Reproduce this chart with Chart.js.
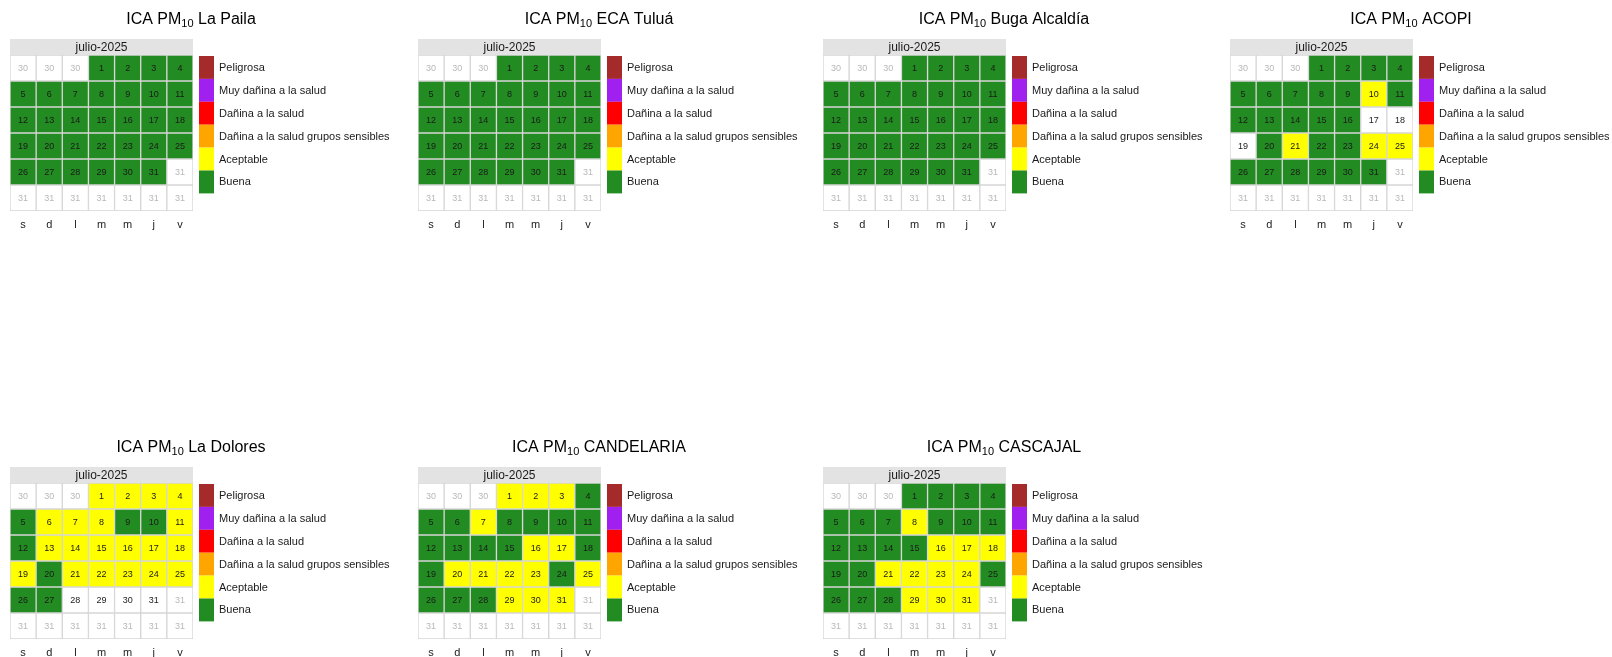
<!DOCTYPE html>
<html>
<head>
<meta charset="utf-8">
<script src="https://cdn.jsdelivr.net/npm/chart.js@4.4.1/dist/chart.umd.min.js"></script>
<style>
  html, body { margin: 0; padding: 0; background: #ffffff; }
  body { width: 1612px; height: 657px; position: relative; overflow: hidden; }
  .panel { position: absolute; width: 400px; height: 230px; }
</style>
</head>
<body>
<div class="panel" style="left:0px;top:0px"><canvas id="c0"></canvas></div>
<div class="panel" style="left:408px;top:0px"><canvas id="c1"></canvas></div>
<div class="panel" style="left:813px;top:0px"><canvas id="c2"></canvas></div>
<div class="panel" style="left:1220px;top:0px;width:392px"><canvas id="c3"></canvas></div>
<div class="panel" style="left:0px;top:428px"><canvas id="c4"></canvas></div>
<div class="panel" style="left:408px;top:428px"><canvas id="c5"></canvas></div>
<div class="panel" style="left:813px;top:428px"><canvas id="c6"></canvas></div>
<script>
// ---------- DATA ----------
const monthLabel = 'julio-2025';
const weekdays = ['s', 'd', 'l', 'm', 'm', 'j', 'v'];
// calendar grid (rows = weeks), day number shown in each cell
const calendarDays = [
  [30, 30, 30, 1, 2, 3, 4],
  [5, 6, 7, 8, 9, 10, 11],
  [12, 13, 14, 15, 16, 17, 18],
  [19, 20, 21, 22, 23, 24, 25],
  [26, 27, 28, 29, 30, 31, 31],
  [31, 31, 31, 31, 31, 31, 31]
];
// 1 = day belongs to julio-2025, 0 = filler cell
const inMonth = [
  [0, 0, 0, 1, 1, 1, 1],
  [1, 1, 1, 1, 1, 1, 1],
  [1, 1, 1, 1, 1, 1, 1],
  [1, 1, 1, 1, 1, 1, 1],
  [1, 1, 1, 1, 1, 1, 0],
  [0, 0, 0, 0, 0, 0, 0]
];
const levels = ['Peligrosa', 'Muy dañina a la salud', 'Dañina a la salud',
                'Dañina a la salud grupos sensibles', 'Aceptable', 'Buena'];
const levelColors = ['#A52A2A', '#A020F0', '#FF0000', '#FFA500', '#FFFF00', '#228B22'];

const stationNames = ['La Paila', 'ECA Tuluá', 'Buga Alcaldía', 'ACOPI',
                      'La Dolores', 'CANDELARIA', 'CASCAJAL'];
// daily category, days 1..31 (null = no data)
const laPaila = ['Buena','Buena','Buena','Buena','Buena','Buena','Buena','Buena','Buena','Buena',
  'Buena','Buena','Buena','Buena','Buena','Buena','Buena','Buena','Buena','Buena',
  'Buena','Buena','Buena','Buena','Buena','Buena','Buena','Buena','Buena','Buena','Buena'];
const ecaTulua = ['Buena','Buena','Buena','Buena','Buena','Buena','Buena','Buena','Buena','Buena',
  'Buena','Buena','Buena','Buena','Buena','Buena','Buena','Buena','Buena','Buena',
  'Buena','Buena','Buena','Buena','Buena','Buena','Buena','Buena','Buena','Buena','Buena'];
const bugaAlcaldia = ['Buena','Buena','Buena','Buena','Buena','Buena','Buena','Buena','Buena','Buena',
  'Buena','Buena','Buena','Buena','Buena','Buena','Buena','Buena','Buena','Buena',
  'Buena','Buena','Buena','Buena','Buena','Buena','Buena','Buena','Buena','Buena','Buena'];
const acopi = ['Buena','Buena','Buena','Buena','Buena','Buena','Buena','Buena','Buena','Aceptable',
  'Buena','Buena','Buena','Buena','Buena','Buena',null,null,null,'Buena',
  'Aceptable','Buena','Buena','Aceptable','Aceptable','Buena','Buena','Buena','Buena','Buena','Buena'];
const laDolores = ['Aceptable','Aceptable','Aceptable','Aceptable','Buena','Aceptable','Aceptable','Aceptable','Buena','Buena',
  'Aceptable','Buena','Aceptable','Aceptable','Aceptable','Aceptable','Aceptable','Aceptable','Aceptable','Buena',
  'Aceptable','Aceptable','Aceptable','Aceptable','Aceptable','Buena','Buena',null,null,null,null];
const candelaria = ['Aceptable','Aceptable','Aceptable','Buena','Buena','Buena','Aceptable','Buena','Buena','Buena',
  'Buena','Buena','Buena','Buena','Buena','Aceptable','Aceptable','Buena','Buena','Aceptable',
  'Aceptable','Aceptable','Aceptable','Buena','Aceptable','Buena','Buena','Buena','Aceptable','Aceptable','Aceptable'];
const cascajal = ['Buena','Buena','Buena','Buena','Buena','Buena','Buena','Aceptable','Buena','Buena',
  'Buena','Buena','Buena','Buena','Buena','Aceptable','Aceptable','Aceptable','Buena','Buena',
  'Aceptable','Aceptable','Aceptable','Aceptable','Buena','Buena','Buena','Buena','Aceptable','Aceptable','Aceptable'];
const stationData = [laPaila, ecaTulua, bugaAlcaldia, acopi, laDolores, candelaria, cascajal];

// ---------- RENDER ----------
const FONT = "'Liberation Sans', Arial, Helvetica, sans-serif";

function cellColor(series, r, c) {
  if (!inMonth[r][c]) return '#FFFFFF';
  const v = series[calendarDays[r][c] - 1];
  if (!v) return '#FFFFFF';
  return levelColors[levels.indexOf(v)];
}

const decorPlugin = {
  id: 'decor',
  afterDraw(chart) {
    const ctx = chart.ctx;
    const a = chart.chartArea;
    const name = chart.options.plugins.decor.station;
    // title with subscript
    ctx.save();
    ctx.fillStyle = '#000000';
    ctx.textBaseline = 'alphabetic';
    ctx.textAlign = 'left';
    const big = '16px ' + FONT, small = '11px ' + FONT;
    ctx.font = big; const w1 = ctx.measureText('ICA PM').width;
    ctx.font = small; const w2 = ctx.measureText('10').width;
    ctx.font = big; const w3 = ctx.measureText(' ' + name).width;
    const total = w1 + w2 + w3;
    let x = 191 - total / 2;
    const by = 24;
    ctx.font = big; ctx.fillText('ICA PM', x, by); x += w1;
    ctx.font = small; ctx.fillText('10', x, by + 3); x += w2;
    ctx.font = big; ctx.fillText(' ' + name, x, by);
    // strip header
    ctx.fillStyle = '#E3E3E3';
    ctx.fillRect(a.left, a.top - 16, a.right - a.left, 16);
    ctx.fillStyle = '#1A1A1A';
    ctx.font = '12px ' + FONT;
    ctx.textAlign = 'center';
    ctx.textBaseline = 'middle';
    ctx.fillText(monthLabel, (a.left + a.right) / 2, a.top - 7.5);
    // day numbers
    ctx.font = '9px ' + FONT;
    for (let r = 0; r < calendarDays.length; r++) {
      const meta = chart.getDatasetMeta(r);
      meta.data.forEach((el, c) => {
        const cy = (el.y + el.base) / 2;
        ctx.fillStyle = inMonth[r][c] ? '#1A1A1A' : '#B8B8B8';
        ctx.fillText(String(calendarDays[r][c]), el.x, cy + 0.5);
      });
    }
    // legend
    const kx = a.right + 6, ky = 56, kh = 22.9, kw = 15;
    ctx.textAlign = 'left';
    ctx.font = '11px ' + FONT;
    levels.forEach((lv, i) => {
      ctx.fillStyle = levelColors[i];
      ctx.fillRect(kx, ky + i * kh, kw, kh);
      ctx.fillStyle = '#1A1A1A';
      ctx.fillText(lv, kx + kw + 5, ky + i * kh + kh / 2 + 0.5);
    });
    ctx.restore();
  }
};

stationData.forEach((series, s) => {
  const datasets = calendarDays.map((week, r) => ({
    label: 'semana ' + (r + 1),
    data: week.map(() => 1),
    backgroundColor: week.map((d, c) => cellColor(series, r, c)),
    borderColor: '#D6D6D6',
    borderWidth: 1,
    borderSkipped: false,
    barPercentage: 1,
    categoryPercentage: 1
  }));
  const panelW = document.getElementById('c' + s).parentNode.clientWidth;
  new Chart(document.getElementById('c' + s), {
    type: 'bar',
    data: { labels: weekdays, datasets },
    plugins: [decorPlugin],
    options: {
      responsive: true,
      maintainAspectRatio: false,
      animation: false,
      events: [],
      layout: { padding: { left: 10, right: panelW - 193, top: 55, bottom: 0 } },
      plugins: {
        legend: { display: false },
        tooltip: { enabled: false },
        title: { display: false },
        decor: { station: stationNames[s] }
      },
      scales: {
        x: {
          stacked: true,
          grid: { display: false, drawTicks: false },
          border: { display: false },
          ticks: { color: '#222222', font: { size: 11, family: FONT }, padding: 7 },
          afterFit(scale) { scale.height = 19; }
        },
        y: {
          stacked: true,
          reverse: true,
          min: 0,
          max: 6,
          display: false
        }
      }
    }
  });
});
</script>
</body>
</html>
